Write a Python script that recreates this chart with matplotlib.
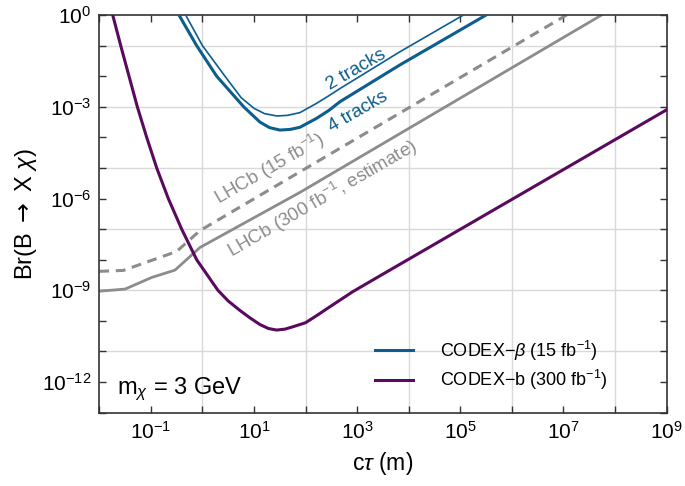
import numpy as np
import matplotlib
matplotlib.use("Agg")
import matplotlib.pyplot as plt
from matplotlib.lines import Line2D

plt.rcParams['font.family'] = ['Liberation Sans', 'DejaVu Sans']
plt.rcParams['mathtext.fontset'] = 'custom'
plt.rcParams['mathtext.rm'] = 'Liberation Sans'
plt.rcParams['mathtext.it'] = 'Liberation Sans:italic'
plt.rcParams['mathtext.bf'] = 'Liberation Sans:bold'
plt.rcParams['mathtext.sf'] = 'DejaVu Sans'

# ---- data (log10 of c*tau [m], log10 of Br) ----
codexb_logx = [-1.74, -1.585, -1.424, -1.263, -1.081, -0.887, -0.662, -0.403, -0.112,
               0.30, 0.50, 0.728, 0.92, 1.115, 1.28, 1.44, 1.60, 1.76, 2.0, 2.24,
               2.47, 2.92, 3.44, 9.0]
codexb_logy = [0.0, -1.0, -2.0, -3.0, -4.0, -5.0, -6.0, -7.0, -8.0,
               -9.0, -9.35, -9.66, -9.90, -10.12, -10.25, -10.30, -10.27, -10.19, -10.06, -9.80,
               -9.54, -9.04, -8.53, -3.1]

beta4_logx = [-0.455, -0.112, 0.276, 0.80, 1.115, 1.30, 1.50, 1.70, 1.89, 2.21, 2.45,
              2.67, 3.83, 5.5]
beta4_logy = [0.0, -1.0, -2.0, -3.0, -3.50, -3.68, -3.76, -3.74, -3.67, -3.38, -3.12,
              -2.83, -1.63, 0.0]

beta2_logx = [-0.325, 0.0, 0.437, 0.75, 1.0, 1.2, 1.44, 1.65, 1.89, 2.21, 2.45,
              2.67, 3.83, 5.06]
beta2_logy = [0.0, -1.0, -2.0, -2.7, -3.05, -3.22, -3.30, -3.28, -3.19, -2.89, -2.64,
              -2.40, -1.20, 0.0]

lhcb15_logx = [-2.0, -1.535, -1.0, -0.5, -0.05, 7.06]
lhcb15_logy = [-8.38, -8.35, -8.03, -7.73, -7.05, 0.0]

lhcb300_logx = [-2.0, -1.5, -0.984, -0.532, -0.048, 1.89, 7.74]
lhcb300_logy = [-9.03, -8.96, -8.58, -8.34, -7.60, -5.80, 0.0]

xtick_exps = list(range(-2, 10))
ytick_exps = list(range(-13, 1))
xlabel_exps = [-1, 1, 3, 5, 7, 9]
ylabel_exps = [0, -3, -6, -9, -12]
xgrid_exps = [0, 2, 4, 6, 8]
ygrid_exps = [-1, -3, -5, -7, -9, -11]

blue = '#0b5e8e'
purple = '#5a0a5e'
grey = '#8c8c8c'

fig = plt.figure(figsize=(6.85, 4.86), dpi=100)
ax = fig.add_axes([0.145, 0.151, 0.828, 0.818])
ax.set_xscale('log')
ax.set_yscale('log')
ax.set_xlim(1e-2, 1e9)
ax.set_ylim(1e-13, 1e0)

for e in xgrid_exps:
    ax.axvline(10.0**e, color='#d9d9d9', lw=1.0, zorder=0)
for e in ygrid_exps:
    ax.axhline(10.0**e, color='#d9d9d9', lw=1.0, zorder=0)

def P(lx, ly):
    return 10.0**np.array(lx), 10.0**np.array(ly)

kw = dict(solid_joinstyle='round', dash_joinstyle='round')
ax.plot(*P(lhcb15_logx, lhcb15_logy), color=grey, lw=2.2, ls=(0, (3.2, 2.2)), zorder=2, **kw)
ax.plot(*P(lhcb300_logx, lhcb300_logy), color=grey, lw=2.0, zorder=2, **kw)
ax.plot(*P(codexb_logx, codexb_logy), color=purple, lw=2.2, zorder=3, **kw)
ax.plot(*P(beta4_logx, beta4_logy), color=blue, lw=2.2, zorder=3, **kw)
ax.plot(*P(beta2_logx, beta2_logy), color=blue, lw=1.2, zorder=3, **kw)

ax.set_xticks([10.0**e for e in xtick_exps])
ax.set_xticklabels([(r'$10^{%d}$' % e) if e in xlabel_exps else '' for e in xtick_exps])
ax.set_yticks([10.0**e for e in ytick_exps])
ax.set_yticklabels([(r'$10^{%d}$' % e) if e in ylabel_exps else '' for e in ytick_exps])
ax.minorticks_off()
ax.tick_params(which='major', direction='in', top=True, right=True, length=5,
               width=1.0, labelsize=15, pad=6, color='#333333')
for s in ax.spines.values():
    s.set_color('#333333')
    s.set_linewidth(1.2)

ax.set_xlabel(r'c$\tau$ (m)', fontsize=16.5, labelpad=5)
ax.set_ylabel(r'Br(B $\mathsf{\rightarrow}$ X $\chi$)', fontsize=17, labelpad=2)

rot = 30
ax.text(10**2.99, 10**-1.80, '2 tracks', color=blue, fontsize=13.5, rotation=rot,
        ha='center', va='center', rotation_mode='anchor')
ax.text(10**3.02, 10**-3.15, '4 tracks', color=blue, fontsize=13.5, rotation=rot,
        ha='center', va='center', rotation_mode='anchor')
ax.text(10**1.31, 10**-5.03, r'LHCb (15 fb$^{-1}$)', color=grey, fontsize=13.5, rotation=rot,
        ha='center', va='center', rotation_mode='anchor')
ax.text(10**2.33, 10**-6.0, r'LHCb (300 fb$^{-1}$, estimate)', color=grey, fontsize=13.5,
        rotation=rot, ha='center', va='center', rotation_mode='anchor')

ax.text(0.031, 0.047, r'm$_\chi$ = 3 GeV', transform=ax.transAxes, fontsize=17,
        ha='left', va='baseline')

handles = [Line2D([], [], color=blue, lw=2.2), Line2D([], [], color=purple, lw=2.2)]
labels = [r'CODEX$-\beta$ (15 fb$^{-1}$)', r'CODEX$-$b (300 fb$^{-1}$)']
ax.legend(handles, labels, loc='upper left', bbox_to_anchor=(0.486, 0.186),
          frameon=False, fontsize=13, handlelength=2.1, handletextpad=1.5,
          labelspacing=0.3, borderpad=0, borderaxespad=0)

fig.savefig('out.png', dpi=100)
